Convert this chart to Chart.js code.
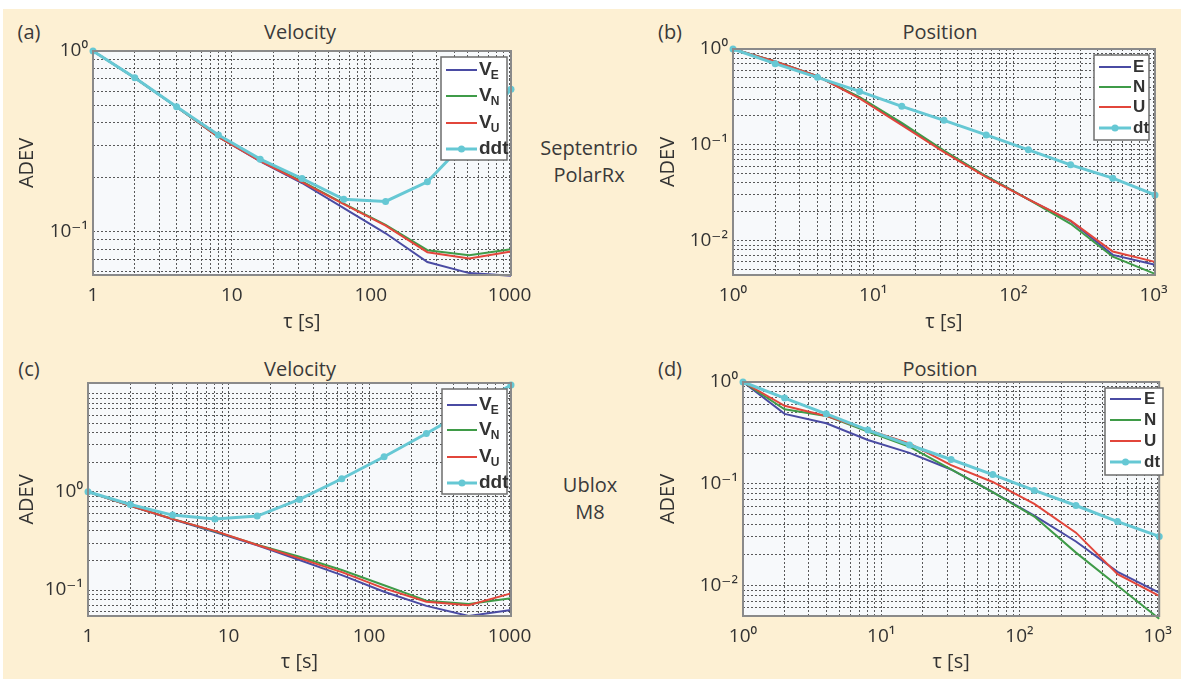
<!DOCTYPE html>
<html>
<head>
<meta charset="utf-8">
<script src="https://cdn.jsdelivr.net/npm/chart.js@4.4.0/dist/chart.umd.min.js"></script>
<style>
  html, body { margin: 0; padding: 0; background: #fff; overflow: hidden; }
  #page { position: relative; width: 1181px; height: 679px; }
  #bg { position: absolute; left: 3px; top: 9px; right: 0; bottom: 0; background: #fdf0d3; }
  canvas { position: absolute; }
  .lbl { position: absolute; font: 20px 'Open Sans', sans-serif; color: #3a3a3a;
         transform: translate(-50%, -50%); white-space: nowrap; text-align: center; line-height: 27px; }
</style>
</head>
<body>
<div id="page">
  <div id="bg"></div>
  <div class="lbl" style="left:29px;top:31px">(a)</div>
  <div class="lbl" style="left:300px;top:31px">Velocity</div>
  <div class="lbl" style="left:670px;top:31px">(b)</div>
  <div class="lbl" style="left:940px;top:31px">Position</div>
  <div class="lbl" style="left:589px;top:161px">Septentrio<br>PolarRx</div>
  <div class="lbl" style="left:29px;top:368px">(c)</div>
  <div class="lbl" style="left:300px;top:368px">Velocity</div>
  <div class="lbl" style="left:670px;top:368px">(d)</div>
  <div class="lbl" style="left:940px;top:368px">Position</div>
  <div class="lbl" style="left:590px;top:498px">Ublox<br>M8</div>
  <canvas id="ca" width="545" height="334" style="left:0;top:0"></canvas>
  <canvas id="cb" width="541" height="334" style="left:640px;top:0"></canvas>
  <canvas id="cc" width="545" height="334" style="left:0;top:340px"></canvas>
  <canvas id="cd" width="541" height="334" style="left:640px;top:340px"></canvas>
</div>
<script>
// averaging time tau [s]
const tau = [1, 2, 4, 8, 16, 32, 64, 128, 256, 512, 1024];

// (a) Septentrio PolarRx, velocity
const aVE  = [1.0, 0.71, 0.49, 0.335, 0.245, 0.186, 0.135, 0.098, 0.068, 0.059, 0.057];
const aVN  = [1.0, 0.71, 0.49, 0.335, 0.248, 0.190, 0.143, 0.109, 0.079, 0.074, 0.080];
const aVU  = [1.0, 0.71, 0.49, 0.335, 0.246, 0.188, 0.142, 0.108, 0.077, 0.071, 0.0776];
const aDdt = [1.0, 0.711, 0.492, 0.343, 0.252, 0.197, 0.151, 0.147, 0.189, 0.33, 0.614];

// (b) Septentrio PolarRx, position
const bE  = [1.0, 0.74, 0.52, 0.31, 0.165, 0.086, 0.047, 0.027, 0.016, 0.0071, 0.0056];
const bN  = [1.0, 0.74, 0.52, 0.315, 0.170, 0.087, 0.047, 0.027, 0.015, 0.0068, 0.0045];
const bU  = [1.0, 0.74, 0.52, 0.305, 0.160, 0.084, 0.046, 0.027, 0.0162, 0.0077, 0.0060];
const bDt = [1.0, 0.703, 0.506, 0.361, 0.252, 0.180, 0.127, 0.0887, 0.0618, 0.0449, 0.030];

// (c) Ublox M8, velocity
const cVE  = [1.0, 0.72, 0.525, 0.39, 0.285, 0.202, 0.142, 0.096, 0.069, 0.0545, 0.0626];
const cVN  = [1.0, 0.72, 0.530, 0.395, 0.290, 0.218, 0.160, 0.112, 0.078, 0.072, 0.0824];
const cVU  = [1.0, 0.72, 0.527, 0.40, 0.287, 0.210, 0.152, 0.104, 0.076, 0.070, 0.0925];
const cDdt = [1.0, 0.743, 0.579, 0.527, 0.566, 0.836, 1.356, 2.27, 3.92, 6.9, 12.2];

// (d) Ublox M8, position
const dE  = [1.0, 0.486, 0.393, 0.269, 0.201, 0.138, 0.0827, 0.0486, 0.027, 0.0136, 0.0085];
const dN  = [1.0, 0.540, 0.464, 0.325, 0.231, 0.138, 0.0827, 0.0475, 0.021, 0.0099, 0.0047];
const dU  = [1.0, 0.583, 0.464, 0.337, 0.249, 0.152, 0.104, 0.0634, 0.033, 0.0129, 0.0079];
const dDt = [1.0, 0.695, 0.486, 0.337, 0.240, 0.173, 0.123, 0.0859, 0.061, 0.0424, 0.0303];

// tick labels
const linXVals = [1, 10, 100, 1000];
const linXText = ['1', '10', '100', '1000'];
const powXText = ['10⁰', '10¹', '10²', '10³'];
const yVals = [1, 0.1, 0.01];
const yText = ['10⁰', '10⁻¹', '10⁻²'];

// legend names
const velNames = ['V', 'V', 'V', 'ddt'];
const velSubs  = ['E', 'N', 'U', ''];
const posNames = ['E', 'N', 'U', 'dt'];

const COLORS = ['#4a4ba3', '#3f9b48', '#e2463b', '#66c8d4'];
const FONT = "'Open Sans', 'DejaVu Sans', sans-serif";

function logTicks(min, max) {
  const out = [];
  for (let e = Math.floor(Math.log10(min)); e <= Math.ceil(Math.log10(max)); e++) {
    for (let m = 1; m <= 9; m++) {
      const v = parseFloat((m * Math.pow(10, e)).toPrecision(6));
      if (v >= min * 0.999 && v <= max * 1.001) out.push({ value: v });
    }
  }
  return out;
}

function labeler(vals, text) {
  return function (v) {
    const i = vals.findIndex(t => Math.abs(t - v) / t < 1e-6);
    return i >= 0 ? text[i] : '';
  };
}

const plotFrame = {
  id: 'plotFrame',
  beforeDraw(chart) {
    const a = chart.chartArea, ctx = chart.ctx;
    ctx.save();
    ctx.fillStyle = '#f7f9fb';
    ctx.fillRect(a.left, a.top, a.width, a.height);
    ctx.restore();
  },
  afterDatasetsDraw(chart) {
    const a = chart.chartArea, ctx = chart.ctx;
    ctx.save();
    ctx.strokeStyle = '#8a8a8a';
    ctx.lineWidth = 2;
    ctx.strokeRect(a.left, a.top, a.width, a.height);
    ctx.restore();
  }
};

const boxLegend = {
  id: 'boxLegend',
  afterDatasetsDraw(chart, args, o) {
    const ctx = chart.ctx;
    const ox = chart.canvas.offsetLeft, oy = chart.canvas.offsetTop;
    const b = o.box;
    ctx.save();
    ctx.fillStyle = '#fff';
    ctx.fillRect(b[0] - ox, b[1] - oy, b[2] - b[0], b[3] - b[1]);
    ctx.strokeStyle = '#6e6e6e';
    ctx.lineWidth = 1.5;
    ctx.strokeRect(b[0] - ox, b[1] - oy, b[2] - b[0], b[3] - b[1]);
    chart.data.datasets.forEach((ds, i) => {
      const y = o.rows[i] - oy;
      ctx.strokeStyle = ds.borderColor;
      ctx.lineWidth = ds.borderWidth;
      ctx.beginPath();
      ctx.moveTo(o.line[0] - ox, y);
      ctx.lineTo(o.line[1] - ox, y);
      ctx.stroke();
      if (ds.pointRadius > 0) {
        ctx.fillStyle = ds.borderColor;
        ctx.beginPath();
        ctx.arc((o.line[0] + o.line[1]) / 2 - ox, y, ds.pointRadius, 0, Math.PI * 2);
        ctx.fill();
      }
      ctx.fillStyle = '#333';
      ctx.font = o.font;
      ctx.textBaseline = 'middle';
      ctx.textAlign = 'left';
      ctx.fillText(o.names[i], o.textX - ox, y);
      if (o.subs && o.subs[i]) {
        const w = ctx.measureText(o.names[i]).width;
        ctx.font = o.subFont;
        ctx.fillText(o.subs[i], o.textX - ox + w - 1, y + 6);
      }
    });
    ctx.restore();
  }
};

function makeChart(id, series, cfg) {
  const datasets = series.map((vals, i) => ({
    label: cfg.names[i] + (cfg.subs ? cfg.subs[i] : ''),
    data: tau.map((t, k) => ({ x: t, y: vals[k] })),
    borderColor: COLORS[i],
    backgroundColor: COLORS[i],
    borderWidth: i === 3 ? 3 : 2,
    pointRadius: i === 3 ? 3.5 : 0,
    pointBorderWidth: 0,
    tension: 0,
    clip: false,
    order: i === 3 ? 0 : 4 - i
  }));
  const tickFont = { family: FONT, size: 19 };
  const gridColor = 'rgba(60,60,60,0.85)';
  return new Chart(document.getElementById(id), {
    type: 'line',
    data: { datasets },
    options: {
      responsive: false,
      animation: false,
      layout: { padding: cfg.pad },
      plugins: {
        legend: { display: false },
        tooltip: { enabled: false },
        boxLegend: cfg.legend
      },
      scales: {
        x: {
          type: 'logarithmic',
          min: 1, max: 1024,
          afterBuildTicks: ax => { ax.ticks = logTicks(1, 1024); },
          afterFit: ax => { ax.height = cfg.xh; },
          ticks: { autoSkip: false, maxRotation: 0, padding: 9, color: '#333', font: tickFont,
                   callback: labeler(linXVals, cfg.xText) },
          grid: { color: gridColor, lineWidth: 1, drawTicks: false },
          border: { display: false, dash: [2, 2] },
          title: { display: true, text: 'τ [s]', color: '#333', padding: 0, font: { family: FONT, size: 20 } }
        },
        y: {
          type: 'logarithmic',
          min: cfg.ymin, max: cfg.ymax,
          afterBuildTicks: ax => { ax.ticks = logTicks(cfg.ymin, cfg.ymax); },
          afterFit: ax => { ax.width = cfg.yw; },
          ticks: { autoSkip: false, padding: 5, color: '#333', font: tickFont,
                   callback: labeler(yVals, yText) },
          grid: { color: gridColor, lineWidth: 1, drawTicks: false },
          border: { display: false, dash: [2, 2] },
          title: { display: true, text: 'ADEV', color: '#333', padding: 0, font: { family: FONT, size: 20 } }
        }
      }
    },
    plugins: [plotFrame, boxLegend]
  });
}

const velLegendFont = "bold 19px 'Liberation Sans', sans-serif";
const posLegendFont = "bold 17px 'Liberation Sans', sans-serif";
const subLegendFont = "bold 12px 'Liberation Sans', sans-serif";

makeChart('ca', [aVE, aVN, aVU, aDdt], {
  names: velNames, subs: velSubs, xText: linXText,
  ymin: 0.0576, ymax: 1,
  pad: { left: 15, top: 51, right: 34, bottom: 0 }, yw: 78, xh: 59,
  legend: { box: [441, 57, 507, 160], rows: [70, 96, 123, 149], line: [446, 477], textX: 479,
            names: velNames, subs: velSubs, font: velLegendFont, subFont: subLegendFont }
});

makeChart('cb', [bE, bN, bU, bDt], {
  names: posNames, xText: powXText,
  ymin: 0.00438, ymax: 1,
  pad: { left: 16, top: 49, right: 26, bottom: 0 }, yw: 77, xh: 59,
  legend: { box: [1094, 55, 1149, 140], rows: [67, 87, 107, 128], line: [1099, 1131], textX: 1133,
            names: posNames, font: posLegendFont }
});

makeChart('cc', [cVE, cVN, cVU, cDdt], {
  names: velNames, subs: velSubs, xText: linXText,
  ymin: 0.0544, ymax: 12.8,
  pad: { left: 15, top: 43, right: 34, bottom: 0 }, yw: 73, xh: 58,
  legend: { box: [442, 389, 507, 494], rows: [405, 430, 457, 483], line: [447, 477], textX: 479,
            names: velNames, subs: velSubs, font: velLegendFont, subFont: subLegendFont }
});

makeChart('cd', [dE, dN, dU, dDt], {
  names: posNames, xText: powXText,
  ymin: 0.005, ymax: 1,
  pad: { left: 16, top: 42, right: 15, bottom: 0 }, yw: 87, xh: 58,
  legend: { box: [1105, 388, 1163, 475], rows: [399, 420, 441, 462], line: [1110, 1141], textX: 1144,
            names: posNames, font: posLegendFont }
});
</script>
</body>
</html>
